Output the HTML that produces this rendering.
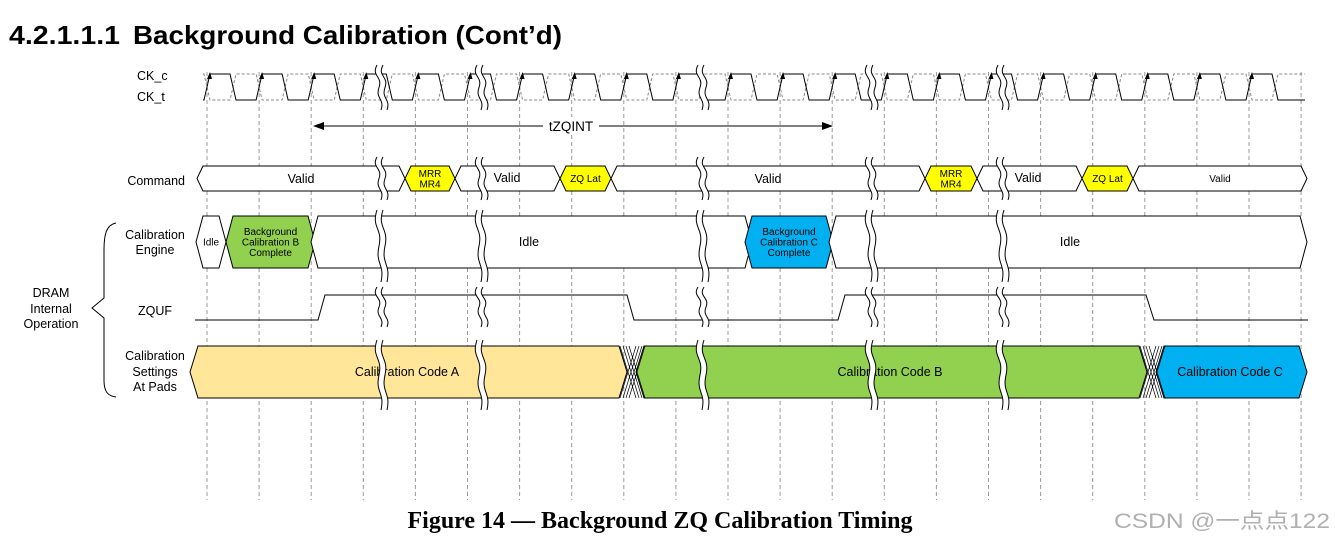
<!DOCTYPE html>
<html><head><meta charset="utf-8"><style>
body{margin:0;background:#fff;width:1335px;height:541px;overflow:hidden}
svg{display:block}
text{font-family:"Liberation Sans",Arial,sans-serif;fill:#000}
</style></head><body>
<svg id="s" width="1335" height="541" viewBox="0 0 1335 541" xmlns="http://www.w3.org/2000/svg">
<text x="9" y="44" font-size="26" font-weight="bold" textLength="111" lengthAdjust="spacingAndGlyphs">4.2.1.1.1</text>
<text x="133" y="44" font-size="26" font-weight="bold" textLength="429" lengthAdjust="spacingAndGlyphs">Background Calibration (Cont’d)</text>
<g id="grid" stroke="#999" stroke-width="1" stroke-dasharray="4,3"></g>
<g id="clk"></g>
<g font-size="12.5">
<text x="137" y="80">CK_c</text>
<text x="137" y="101">CK_t</text>
<text x="185" y="185" text-anchor="end">Command</text>
<text x="155" y="239" text-anchor="middle">Calibration</text>
<text x="155" y="254" text-anchor="middle">Engine</text>
<text x="155" y="315" text-anchor="middle">ZQUF</text>
<text x="155" y="360" text-anchor="middle">Calibration</text>
<text x="155" y="376" text-anchor="middle">Settings</text>
<text x="155" y="391" text-anchor="middle">At Pads</text>
<text x="51" y="297" text-anchor="middle">DRAM</text>
<text x="51" y="313" text-anchor="middle">Internal</text>
<text x="51" y="328" text-anchor="middle">Operation</text>
</g>
<path d="M116,223 C106,225 104,235 104,250 L104,298 L92,308 L104,318 L104,380 C104,392 108,396 116,397" fill="none" stroke="#000" stroke-width="1"/>
<line x1="322" y1="126" x2="824" y2="126" stroke="#000"/>
<polygon points="313,126 324,122 324,130"/>
<polygon points="833,126 822,122 822,130"/>
<rect x="543" y="117" width="56" height="16" fill="#fff"/>
<text x="571" y="131" font-size="13.5" text-anchor="middle">tZQINT</text>
<g id="rows" stroke="#000" stroke-width="1"></g>
<g id="txt" font-size="12" text-anchor="middle"></g>
<g id="brk"></g>
<text x="660" y="528" font-size="24" font-weight="bold" text-anchor="middle" style="font-family:'Liberation Serif',serif">Figure 14 — Background ZQ Calibration Timing</text>
<text x="1114" y="528" font-size="21" textLength="216" lengthAdjust="spacingAndGlyphs" style="font-family:'Liberation Sans','Noto Sans CJK SC',sans-serif;fill:#b0b0b0">CSDN @一点点122</text>
</svg>
<script>
var NS="http://www.w3.org/2000/svg";
function el(p,t,a,txt){var e=document.createElementNS(NS,t);for(var k in a)e.setAttribute(k,a[k]);if(txt)e.textContent=txt;document.getElementById(p).appendChild(e);return e;}
var P=52.1,T0=207;
for(var k=0;k<22;k++){var x=T0+P*k;el("grid","line",{x1:x,y1:72,x2:x,y2:500});}
var a="M203,100",b="M203,74";
for(var k=0;k<21;k++){var t=T0+P*k;
a+=" L"+(t-3)+",100 L"+(t+3)+",74 L"+(t+23)+",74 L"+(t+29)+",100";
b+=" L"+(t-3)+",74 L"+(t+3)+",100 L"+(t+23)+",100 L"+(t+29)+",74";}
a+=" L1305,100";b+=" L1305,74";
el("clk","path",{d:b,fill:"none",stroke:"#888","stroke-dasharray":"3,2"});
el("clk","path",{d:a,fill:"none",stroke:"#000"});
for(var k=0;k<21;k++){var t=T0+P*k;el("clk","polygon",{points:(t+3)+",72 "+(t)+",79 "+(t+5)+",79",fill:"#000"});}
function hex(x1,x2,y1,y2,f,s,lab,fs){var m=(y1+y2)/2,d=s||7;
el("rows","polygon",{points:x1+","+m+" "+(x1+d)+","+y1+" "+(x2-d)+","+y1+" "+x2+","+m+" "+(x2-d)+","+y2+" "+(x1+d)+","+y2,fill:f});
if(lab){var L=lab.split("|"),n=L.length,lh=fs*1.05;for(var i=0;i<n;i++)el("txt","text",{x:(x1+x2)/2,y:m+fs*0.36+(i-(n-1)/2)*lh,"font-size":fs},L[i]);}}
var cy1=166,cy2=191;
hex(197,405,cy1,cy2,"#fff",6,"Valid",12.5);
hex(405,455,cy1,cy2,"#ffff00",6,"MRR|MR4",10);
hex(455,560,cy1,cy2,"#fff",6);
el("txt","text",{x:507,y:182,"font-size":12.5},"Valid");
hex(560,611,cy1,cy2,"#ffff00",6,"ZQ Lat",10);
hex(611,925,cy1,cy2,"#fff",6,"Valid",12.5);
hex(925,977,cy1,cy2,"#ffff00",6,"MRR|MR4",10);
hex(977,1082,cy1,cy2,"#fff",6);
el("txt","text",{x:1028,y:182,"font-size":12.5},"Valid");
hex(1082,1133,cy1,cy2,"#ffff00",6,"ZQ Lat",10);
hex(1133,1307,cy1,cy2,"#fff",6,"Valid",10);
var ey1=216,ey2=268;
hex(196,226,ey1,ey2,"#fff",7,"Idle",10);
hex(226,315,ey1,ey2,"#92d050",7,"Background|Calibration B|Complete",10);
hex(311,752,ey1,ey2,"#fff",7);
el("txt","text",{x:529,y:246,"font-size":12.5},"Idle");
hex(745,833,ey1,ey2,"#00b0f0",7,"Background|Calibration C|Complete",10);
hex(829,1307,ey1,ey2,"#fff",7);
el("txt","text",{x:1070,y:246,"font-size":12.5},"Idle");
el("rows","path",{d:"M195,320 L318,320 L325,295 L627,295 L634,320 L838,320 L845,295 L1146,295 L1154,320 L1308,320",fill:"none"});
var sy1=346,sy2=398;
hex(190,627,sy1,sy2,"#ffe699",8);
hex(636,1147,sy1,sy2,"#92d050",8);
hex(1156,1307,sy1,sy2,"#00b0f0",8);
for(var i=0;i<4;i++){var o=i*3;
el("rows","path",{d:"M"+(620+o)+","+sy1+" L"+(636+o)+","+sy2+" M"+(620+o)+","+sy2+" L"+(636+o)+","+sy1,stroke:"#000","stroke-width":"0.7"});
el("rows","path",{d:"M"+(1140+o)+","+sy1+" L"+(1156+o)+","+sy2+" M"+(1140+o)+","+sy2+" L"+(1156+o)+","+sy1,stroke:"#000","stroke-width":"0.7"});}
el("txt","text",{x:407,y:376,"font-size":12.5},"Calibration Code A");
el("txt","text",{x:890,y:376,"font-size":12.5},"Calibration Code B");
el("txt","text",{x:1230,y:376,"font-size":12.5},"Calibration Code C");
function brk(x,y1,y2){var h=y2-y1,q=h/4;
var d="M"+(x-2)+","+y1+" C"+(x-8)+","+(y1+q)+" "+(x+4)+","+(y1+q)+" "+(x)+","+(y1+2*q)+" C"+(x-4)+","+(y1+3*q)+" "+(x+6)+","+(y1+3*q)+" "+(x+2)+","+y2;
var d2="M"+(x+4)+","+y1+" C"+(x-2)+","+(y1+q)+" "+(x+10)+","+(y1+q)+" "+(x+6)+","+(y1+2*q)+" C"+(x+2)+","+(y1+3*q)+" "+(x+12)+","+(y1+3*q)+" "+(x+8)+","+y2;
el("brk","path",{d:d+" L"+(x+8)+","+y2+" C"+(x+12)+","+(y1+3*q)+" "+(x+2)+","+(y1+3*q)+" "+(x+6)+","+(y1+2*q)+" C"+(x+10)+","+(y1+q)+" "+(x-2)+","+(y1+q)+" "+(x+4)+","+y1+" Z",fill:"#fff",stroke:"none"});
el("brk","path",{d:d,fill:"none",stroke:"#000"});el("brk","path",{d:d2,fill:"none",stroke:"#000"});}
[379,479,700,869,1000].forEach(function(x){brk(x,65,110);brk(x,157,200);brk(x,210,282);brk(x,287,327);brk(x,340,410);});
</script>
</body></html>
